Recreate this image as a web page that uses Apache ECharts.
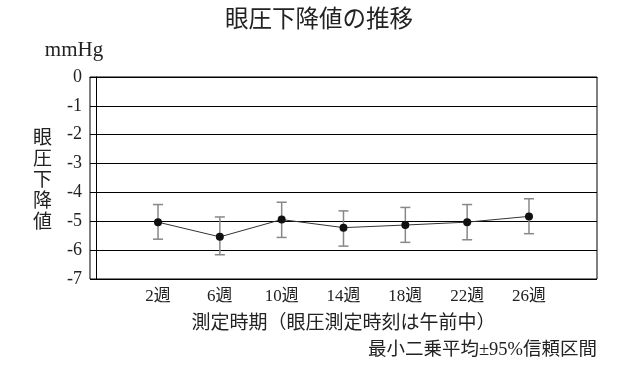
<!DOCTYPE html>
<html><head><meta charset="utf-8">
<script src="https://cdn.jsdelivr.net/npm/echarts@6/dist/echarts.min.js"></script>
<style>html,body{margin:0;padding:0;background:#fff}#c{width:639px;height:370px}</style>
</head><body><div id="c"></div>
<script>
var categories = ['2週','6週','10週','14週','18週','22週','26週'];
var positions = [1,2,3,4,5,6,7];
var meanValues = [-5.03, -5.54, -4.94, -5.22, -5.13, -5.03, -4.83];
var upperValues = [-4.42, -4.85, -4.34, -4.64, -4.52, -4.42, -4.22];
var lowerValues = [-5.62, -6.16, -5.56, -5.86, -5.73, -5.64, -5.43];
var yTicks = [0,-1,-2,-3,-4,-5,-6,-7];

var FONT = '"Liberation Serif", "Noto Sans CJK JP", serif';
var chart = echarts.init(document.getElementById('c'));
var lineData = positions.map(function(p,i){return [p, meanValues[i]];});
var errData = positions.map(function(p,i){return [p, lowerValues[i], upperValues[i]];});

chart.setOption({
  animation:false,
  title:{text:'眼圧下降値の推移', left:220, top:4,
    textStyle:{fontFamily:FONT, fontSize:23.5, fontWeight:'normal', color:'#222'}},
  grid:{left:90, right:42, top:77, bottom:91, show:true, borderColor:'#000', borderWidth:1, containLabel:false},
  xAxis:{type:'value', min:-0.1, max:8.1,
    axisLine:{show:true, lineStyle:{color:'#000'}},
    axisTick:{show:false}, splitLine:{show:false},
    axisLabel:{customValues:positions, formatter:function(v){return categories[Math.round(v)-1]||'';},
      fontFamily:FONT, fontSize:17, color:'#222', margin:9},
    name:'測定時期（眼圧測定時刻は午前中）', nameLocation:'middle', nameGap:36,
    nameTextStyle:{fontFamily:FONT, fontSize:19, color:'#222'}},
  yAxis:{type:'value', min:-7, max:0, interval:1,
    axisLine:{show:true, lineStyle:{color:'#000'}},
    axisTick:{show:false},
    splitLine:{show:true, lineStyle:{color:'#000', width:1}},
    axisLabel:{fontFamily:FONT, fontSize:18, color:'#222', margin:8,
      formatter:function(v){return yTicks.indexOf(v)>=0 ? String(v) : '';}},
    name:'mmHg', nameLocation:'end', nameGap:16,
    nameTextStyle:{fontFamily:FONT, fontSize:21, color:'#222', align:'right', padding:[0,-7,0,0]}},
  graphic:[
    {type:'text', left:33, top:126, style:{text:'眼\n圧\n下\n降\n値', font:'19px "Noto Sans CJK JP"', fill:'#222', lineHeight:21}},
    {type:'text', right:42, top:341, style:{text:'最小二乗平均±95%信頼区間', font:'18.5px "Liberation Serif", "Noto Sans CJK JP"', fill:'#222'}}
  ],
  series:[
    {type:'custom', data:errData, z:2,
      renderItem:function(params, api){
        var x = api.value(0);
        var lo = api.coord([x, api.value(1)]);
        var hi = api.coord([x, api.value(2)]);
        var w = 5;
        var st = {stroke:'#888', lineWidth:1.5};
        return {type:'group', children:[
          {type:'line', shape:{x1:lo[0],y1:lo[1],x2:hi[0],y2:hi[1]}, style:st},
          {type:'line', shape:{x1:lo[0]-w,y1:lo[1],x2:lo[0]+w,y2:lo[1]}, style:st},
          {type:'line', shape:{x1:hi[0]-w,y1:hi[1],x2:hi[0]+w,y2:hi[1]}, style:st}
        ]};
      }},
    {type:'line', data:lineData, z:3, symbol:'circle', symbolSize:8,
      lineStyle:{color:'#333', width:1}, itemStyle:{color:'#111'}}
  ]
});
</script></body></html>
